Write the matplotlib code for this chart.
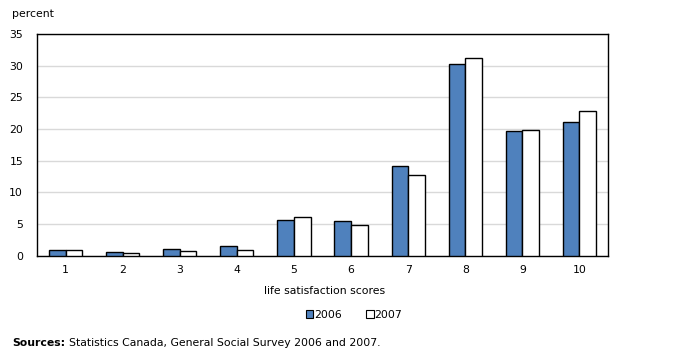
import matplotlib
matplotlib.use("Agg")
import matplotlib.pyplot as plt
import numpy as np
from matplotlib.patches import Patch

categories = ["1", "2", "3", "4", "5", "6", "7", "8", "9", "10"]
values_2006 = [0.85, 0.54, 1.0, 1.48, 5.6, 5.43, 14.1, 30.2, 19.65, 21.07]
values_2007 = [0.85, 0.38, 0.7, 0.85, 6.07, 4.8, 12.7, 31.2, 19.8, 22.8]
yticks = [0, 5, 10, 15, 20, 25, 30, 35]

plt.rcParams['font.family'] = ['DejaVu Sans']
fs = 7.8
fig = plt.figure(figsize=(6.75, 3.59), dpi=100)
ax = fig.add_axes([37/675, 1-255.7/359, (608-37)/675, (255.7-34)/359])

x = np.arange(len(categories))
w = 0.29
ax.bar(x - w/2, values_2006, w, color="#4F81BD", edgecolor="black", linewidth=1.0, zorder=3)
ax.bar(x + w/2, values_2007, w, color="white", edgecolor="black", linewidth=1.0, zorder=3)

ax.set_xlim(-0.5, 9.5)
ax.set_ylim(0, 35)
ax.set_yticks(yticks)
ax.set_xticks(x)
ax.set_xticklabels(categories)
ax.tick_params(axis='both', length=0, labelsize=fs)
ax.tick_params(axis='x', pad=7)
ax.tick_params(axis='y', pad=10)
ax.yaxis.grid(True, color="#d9d9d9", linewidth=1, zorder=0)
for s in ax.spines.values():
    s.set_linewidth(1.0)
    s.set_color("black")

fig.text(12/675, 1-14/359, "percent", fontsize=fs, va="center", ha="left")
fig.text(324.5/675, 1-290.5/359, "life satisfaction scores", fontsize=fs, va="center", ha="center")

handles = [Patch(facecolor="#4F81BD", edgecolor="black", linewidth=0.8),
           Patch(facecolor="white", edgecolor="black", linewidth=0.8)]
fig.legend(handles, ["2006", "2007"], loc="center", bbox_to_anchor=(354/675, 1-315/359),
           ncol=2, frameon=False, fontsize=fs, handlelength=0.7, handleheight=0.7,
           handletextpad=0.1, columnspacing=2.2)

t = fig.text(12/675, 1-343/359, "Sources:", fontsize=fs, fontweight="bold", va="center", ha="left")
fig.canvas.draw()
bb = t.get_window_extent()
fig.text((bb.x1 + 4)/675, 1-343/359, "Statistics Canada, General Social Survey 2006 and 2007.",
         fontsize=fs, va="center", ha="left")

fig.savefig("out.png", dpi=100)
